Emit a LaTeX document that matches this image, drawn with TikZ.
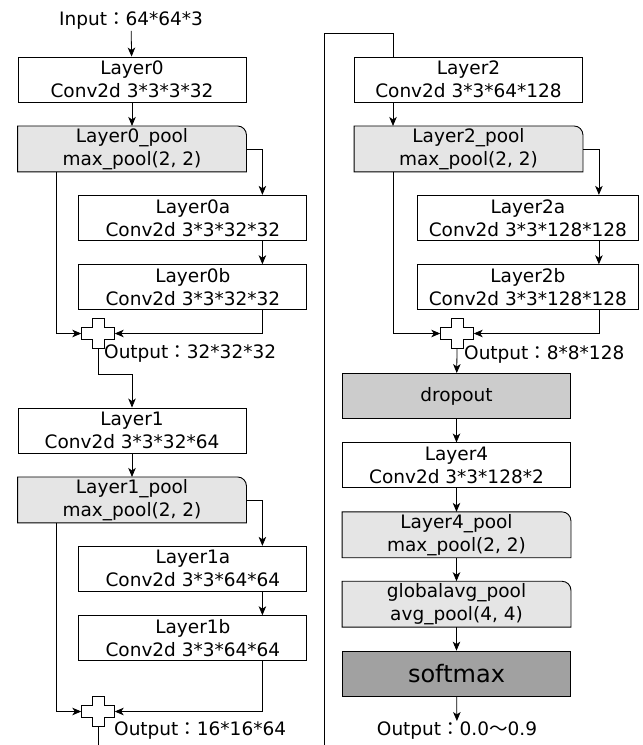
\documentclass[tikz,border=0pt]{standalone}
\usepackage{fontspec}
\setmainfont{DejaVu Sans}
\newfontfamily\jpfont{Noto Sans CJK JP}
\newcommand{\jcolon}{{\jpfont ：}}
\usetikzlibrary{positioning,arrows.meta,backgrounds}

% frame of a pooling box: only the top right corner is rounded
\newcommand{\poolframe}[2]{%
  \begin{pgfonlayer}{background}
    \draw[frame, fill=#2] (#1.south west) -- (#1.north west) -- ([xshift=-9pt]#1.north east)
      arc[start angle=90, end angle=0, radius=9pt] -- (#1.south east) -- cycle;
  \end{pgfonlayer}}
% plus sign of a residual sum
\newcommand{\addsym}[1]{%
  \draw[frame, fill=white, shift={(#1.center)}]
    (-16.5pt,-6pt) -- (-6pt,-6pt) -- (-6pt,-15pt) -- (6pt,-15pt) -- (6pt,-6pt) -- (16.5pt,-6pt)
    -- (16.5pt,6pt) -- (6pt,6pt) -- (6pt,15pt) -- (-6pt,15pt) -- (-6pt,6pt) -- (-16.5pt,6pt) -- cycle;}

\begin{document}
\begin{tikzpicture}[
  x=1pt, y=1pt,
  node distance = 23.5pt,
  frame/.style  = {line width=0.9pt},
  box/.style    = {draw, frame, fill=white, align=center, inner ysep=1pt, inner xsep=1pt,
                   minimum width=228pt, minimum height=45pt,
                   font=\fontsize{18.5}{23}\selectfont},
  pool/.style   = {box, draw=none, fill=none},
  dropbox/.style= {box, fill=black!20},
  softbox/.style= {box, fill=black!37, font=\fontsize{24}{26}\selectfont},
  addnode/.style= {minimum width=33pt, minimum height=30pt, inner sep=0pt},
  txt/.style    = {inner sep=1pt, font=\fontsize{18.5}{23}\selectfont},
  arr/.style    = {-{Stealth[length=9pt, width=7.5pt, inset=2.5pt]}, line width=0.8pt},
  line/.style   = {line width=0.8pt},
]
\useasboundingbox (0,0) rectangle (643,-745);

% ---- left column: Layer0 and Layer1 ----
\node[txt] (input) at (131,-21) {Input\jcolon 64*64*3};
\node[box] (l0) at (132,-79.5) {Layer0\\Conv2d 3*3*3*32};
\node[pool, below=of l0] (pool0) {Layer0\_pool\\max\_pool(2, 2)};
\node[box, below right=23pt and -168pt of pool0] (l0a) {Layer0a\\Conv2d 3*3*32*32};
\node[box, below=of l0a] (l0b) {Layer0b\\Conv2d 3*3*32*32};
\node[addnode] (add0) at (98,-333.5) {};
\node[txt, anchor=west] (out0) at (103,-354) {Output\jcolon 32*32*32};

\node[box] (l1) at (132,-430.5) {Layer1\\Conv2d 3*3*32*64};
\node[pool, below=of l1] (pool1) {Layer1\_pool\\max\_pool(2, 2)};
\node[box, below right=23pt and -168pt of pool1] (l1a) {Layer1a\\Conv2d 3*3*64*64};
\node[box, below=of l1a] (l1b) {Layer1b\\Conv2d 3*3*64*64};
\node[addnode] (add1) at (98,-711.5) {};
\node[txt, anchor=west] (out1) at (113,-731) {Output\jcolon 16*16*64};

% ---- right column: Layer2 and head ----
\node[box] (l2) at (468.5,-79.5) {Layer2\\Conv2d 3*3*64*128};
\node[pool, below=of l2] (pool2) {Layer2\_pool\\max\_pool(2, 2)};
\node[box, minimum width=221pt, below right=23pt and -166pt of pool2] (l2a) {Layer2a\\Conv2d 3*3*128*128};
\node[box, minimum width=221pt, below=of l2a] (l2b) {Layer2b\\Conv2d 3*3*128*128};
\node[addnode] (add2) at (457,-333.5) {};
\node[txt, anchor=west] (out2) at (463,-355) {Output\jcolon 8*8*128};

\node[dropbox] (drop) at (456.5,-396) {dropout};
\node[box, below=of drop] (l4) {Layer4\\Conv2d 3*3*128*2};
\node[pool, below=of l4] (pool4) {Layer4\_pool\\max\_pool(2, 2)};
\node[pool, below=of pool4] (gap) {globalavg\_pool\\avg\_pool(4, 4)};
\node[softbox, below=of gap] (soft) {softmax};
\node[txt] (outF) at (457,-731) {Output\jcolon 0.0{\jpfont ～}0.9};

\coordinate (wrapL) at (98,-745);
\coordinate (wrapR) at (324,-745);

% ---- pooling frames and sums ----
\poolframe{pool0}{black!10}
\poolframe{pool1}{black!10}
\poolframe{pool2}{black!10}
\poolframe{pool4}{black!10}
\poolframe{gap}{black!10}
\addsym{add0}
\addsym{add1}
\addsym{add2}

% ---- edges: block 0 ----
\draw[arr] (input) -- (l0);
\draw[arr] (l0) -- (pool0);
\draw[arr] (pool0.east) -| ([xshift=69.5pt]l0a.north);
\draw[arr] ([xshift=69.5pt]l0a.south) -- ([xshift=69.5pt]l0b.north);
\draw[arr] ([xshift=69.5pt]l0b.south) |- (add0.east);
\draw[arr] ([xshift=-76pt]pool0.south) |- (add0.west);
\draw[arr] (add0.south) -- ++(0,-26) -| (l1.north);

% ---- edges: block 1 ----
\draw[arr] (l1) -- (pool1);
\draw[arr] (pool1.east) -| ([xshift=69.5pt]l1a.north);
\draw[arr] ([xshift=69.5pt]l1a.south) -- ([xshift=69.5pt]l1b.north);
\draw[arr] ([xshift=69.5pt]l1b.south) |- (add1.east);
\draw[arr] ([xshift=-76pt]pool1.south) |- (add1.west);
\draw[line] (add1.south) -- (wrapL);

% ---- edges: block 2 ----
\draw[line] (wrapR) -- ++(0,712) -| ([xshift=-75.5pt]l2.north);
\draw[arr] ([xshift=-75.5pt]l2.south) -- ([xshift=-75.5pt]pool2.north);
\draw[arr] (pool2.east) -| ([xshift=71pt]l2a.north);
\draw[arr] ([xshift=71pt]l2a.south) -- ([xshift=71pt]l2b.north);
\draw[arr] ([xshift=71pt]l2b.south) |- (add2.east);
\draw[arr] ([xshift=-75.5pt]pool2.south) |- (add2.west);

% ---- edges: head ----
\draw[arr] (add2.south) -- (drop);
\draw[arr] (drop) -- (l4);
\draw[arr] (l4) -- (pool4);
\draw[arr] (pool4) -- (gap);
\draw[arr] (gap) -- (soft);
\draw[arr] (soft) -- (outF);

\end{tikzpicture}
\end{document}
